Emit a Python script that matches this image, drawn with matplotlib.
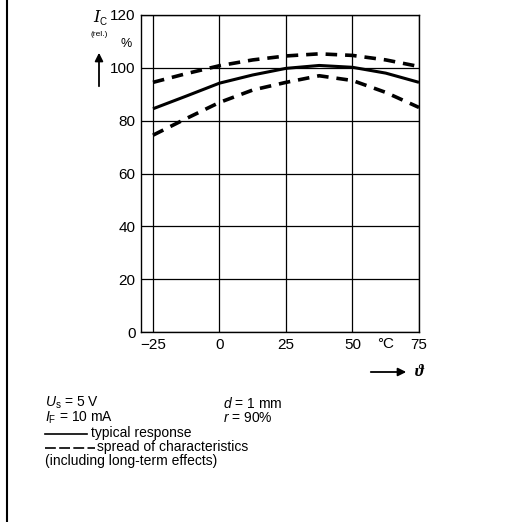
import matplotlib.pyplot as plt
from matplotlib.lines import Line2D

# temperature (deg C) and relative collector current (%)
temp = [-25, -12.5, 0, 12.5, 25, 37.5, 50, 62.5, 75]
typical = [84.5, 89.3, 94.2, 97.3, 99.8, 100.9, 100.2, 98.0, 94.5]
upper = [94.5, 97.8, 100.8, 103.0, 104.5, 105.3, 104.7, 103.0, 100.5]
lower = [74.5, 80.8, 86.9, 91.6, 94.5, 97.0, 95.2, 90.7, 85.0]

xticks = [-25, 0, 25, 50, 75]
xticklabels = ['\u221225', '0', '25', '50', '75']
yticks = [0, 20, 40, 60, 80, 100, 120]

plt.rcParams['font.family'] = ['Liberation Sans', 'DejaVu Sans']
plt.rcParams['mathtext.fontset'] = 'custom'
plt.rcParams['mathtext.rm'] = 'Liberation Sans'
plt.rcParams['mathtext.it'] = 'Liberation Sans:italic'

fig = plt.figure(figsize=(5.09, 5.22), dpi=100)
ax = fig.add_axes([141/509, 1-332/522, 278/509, 317/522])

ax.plot(temp, typical, color='black', lw=2.2, solid_capstyle='butt')
ax.plot(temp, upper, color='black', lw=2.6, dashes=(3.2, 2.2))
ax.plot(temp, lower, color='black', lw=2.6, dashes=(3.2, 2.2))

ax.set_xlim(-29.5, 75)
ax.set_ylim(0, 120)
ax.set_xticks(xticks)
ax.set_xticklabels(xticklabels)
ax.set_yticks(yticks)
ax.tick_params(length=0, labelsize=11, pad=4)
ax.grid(True, color='black', lw=0.9)
for s in ax.spines.values():
    s.set_linewidth(1.0)

# unit labels
ax.text(62.5, -1.8, '\u00b0C', ha='center', va='top', fontsize=11)
fig.text(93/509, 1-18/522, 'I', fontsize=12, style='italic', family='DejaVu Serif', ha='left', va='center')
fig.text(100/509, 1-22/522, 'C', fontsize=7, ha='left', va='center')
fig.text(99/509, 1-35/522, '(rel.)', fontsize=6, ha='center', va='center')
fig.text(126/509, 1-44/522, '%', fontsize=9, ha='center', va='center')
plt.annotate('', xy=(99/509, 1-50/522), xytext=(99/509, 1-89/522),
             xycoords='figure fraction',
             arrowprops=dict(arrowstyle='-|>', color='black', lw=1.3, mutation_scale=12))
plt.annotate('', xy=(409/509, 1-372/522), xytext=(368/509, 1-372/522),
             xycoords='figure fraction',
             arrowprops=dict(arrowstyle='-|>', color='black', lw=1.3, mutation_scale=12))
fig.text(419/509, 1-372/522, '\u03d1', fontsize=12, style='italic', weight='bold',
         family=['Liberation Serif', 'DejaVu Serif'], ha='center', va='center')

# conditions text
fs = 10
fig.text(45/509, 1-403/522, '$U_\\mathrm{s}$ = 5 V', fontsize=fs, va='center')
fig.text(223/509, 1-403/522, '$d$ = 1 mm', fontsize=fs, va='center')
fig.text(45/509, 1-418/522, '$I_\\mathrm{F}$ = 10 mA', fontsize=fs, va='center')
fig.text(223/509, 1-418/522, '$r$ = 90%', fontsize=fs, va='center')
fig.add_artist(Line2D([45/509, 87/509], [1-434/522, 1-434/522], color='black', lw=1.2))
fig.text(91/509, 1-433/522, 'typical response', fontsize=fs, va='center')
fig.add_artist(Line2D([45/509, 95/509], [1-448/522, 1-448/522], color='black', lw=1.2,
                      dashes=(6.5, 2)))
fig.text(97/509, 1-447/522, 'spread of characteristics', fontsize=fs, va='center')
fig.text(45/509, 1-461/522, '(including long-term effects)', fontsize=fs, va='center')

# left border
fig.add_artist(Line2D([7/509, 7/509], [0, 1], color='black', lw=1.5))

fig.savefig('out.png', dpi=100)
